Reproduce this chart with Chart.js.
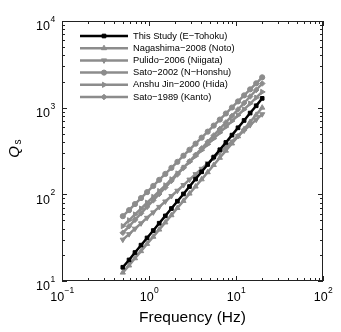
<!DOCTYPE html>
<html>
<head>
<meta charset="utf-8">
<script src="https://cdn.jsdelivr.net/npm/chart.js@4.4.0/dist/chart.umd.min.js"></script>
<style>
  html, body { margin: 0; padding: 0; background: #fff; }
  canvas { display: block; }
</style>
</head>
<body>
<canvas id="qsChart" width="341" height="332"></canvas>
<script>
// frecuencias (Hz), espaciado logaritmico entre 0.5 y 20 Hz
const frecuencias = [0.5, 0.59, 0.69, 0.81, 0.95, 1.12, 1.31, 1.54, 1.81, 2.12, 2.49, 2.92,
                     3.43, 4.03, 4.73, 5.55, 6.52, 7.65, 8.99, 10.55, 12.39, 14.54, 17.07, 20];

// Qs de cada estudio
const qsEstudio   = [14.4, 17.5, 21.3, 25.9, 31.4, 38.2, 46.4, 56.4, 68.6, 83.3, 101, 123,
                     150, 182, 221, 269, 327, 397, 482, 586, 712, 866, 1052, 1280];
const qsNagashima = [12.5, 15.1, 18.3, 22.1, 26.8, 32.4, 39.2, 47.4, 57.4, 69.5, 84.0, 102,
                     123, 149, 180, 218, 264, 319, 386, 467, 565, 684, 827, 1000];
const qsPulido    = [30, 34.7, 40.1, 46.3, 53.6, 61.9, 71.6, 82.7, 95.6, 110, 128, 148,
                     171, 197, 228, 264, 305, 352, 407, 471, 544, 629, 727, 840];
const qsSato2002  = [56, 65.7, 77.2, 90.6, 106, 125, 147, 172, 202, 237, 279, 327,
                     384, 451, 529, 621, 729, 856, 1005, 1180, 1385, 1626, 1909, 2240];
const qsAnshuJin  = [43, 50.2, 58.6, 68.5, 80.0, 93.4, 109, 127, 149, 174, 203, 237,
                     276, 323, 377, 440, 514, 600, 701, 818, 955, 1115, 1303, 1520];
const qsSato1989  = [36, 42.8, 50.8, 60.4, 71.8, 85.3, 101, 120, 143, 170, 202, 240,
                     285, 339, 403, 478, 568, 675, 802, 953, 1132, 1346, 1599, 1900];

const etiquetas = ['This Study (E\u2212Tohoku)', 'Nagashima\u22122008 (Noto)', 'Pulido\u22122006 (Niigata)',
                   'Sato\u22122002 (N\u2212Honshu)', 'Anshu Jin\u22122000 (Hida)', 'Sato\u22121989 (Kanto)'];

const decadasX = [0.1, 1, 10, 100];
const decadasY = [10, 100, 1000, 10000];

const FUENTE = "'Liberation Sans', Arial, Helvetica, sans-serif";
const GRIS = '#8c8c8c';

function serie(valores) {
    return frecuencias.map((f, i) => ({ x: f, y: valores[i] }));
}

function estilo(label, valores, color, forma, rot, radio) {
    return {
        label: label,
        data: serie(valores),
        borderColor: color,
        backgroundColor: color,
        borderWidth: 2.5,
        pointStyle: forma,
        rotation: rot,
        pointRadius: radio,
        pointBorderWidth: 1,
        tension: 0
    };
}

const datasets = [
    estilo(etiquetas[0], qsEstudio, '#000000', 'rect', 0, 2.6),
    estilo(etiquetas[1], qsNagashima, GRIS, 'triangle', 0, 3),
    estilo(etiquetas[2], qsPulido, GRIS, 'triangle', 180, 3),
    estilo(etiquetas[3], qsSato2002, GRIS, 'circle', 0, 2.6),
    estilo(etiquetas[4], qsAnshuJin, GRIS, 'triangle', 90, 3),
    estilo(etiquetas[5], qsSato1989, GRIS, 'rectRot', 0, 2.8)
];

// caja, marcas hacia adentro, etiquetas 10^n, titulos y leyenda
const ejes = {
    id: 'ejes',
    afterDraw(chart) {
        const ctx = chart.ctx;
        const a = chart.chartArea;
        const x = chart.scales.x;
        const y = chart.scales.y;
        ctx.save();
        ctx.strokeStyle = '#222';
        ctx.lineWidth = 1;
        ctx.strokeRect(a.left + 0.5, a.top + 0.5, a.right - a.left - 1, a.bottom - a.top - 1);

        ctx.beginPath();
        for (let i = 0; i < decadasX.length; i++) {
            for (let m = 1; m <= 9; m++) {
                const v = decadasX[i] * m;
                if (v > 100) break;
                const px = Math.round(x.getPixelForValue(v)) + 0.5;
                const len = m === 1 ? 5 : 3;
                ctx.moveTo(px, a.bottom); ctx.lineTo(px, a.bottom - len);
                ctx.moveTo(px, a.top); ctx.lineTo(px, a.top + len);
            }
        }
        for (let i = 0; i < decadasY.length; i++) {
            for (let m = 1; m <= 9; m++) {
                const v = decadasY[i] * m;
                if (v > 10000) break;
                const py = Math.round(y.getPixelForValue(v)) + 0.5;
                const len = m === 1 ? 5 : 3;
                ctx.moveTo(a.left, py); ctx.lineTo(a.left + len, py);
                ctx.moveTo(a.right, py); ctx.lineTo(a.right - len, py);
            }
        }
        ctx.stroke();

        ctx.fillStyle = '#000';
        // etiquetas eje y
        decadasY.forEach(v => {
            const py = y.getPixelForValue(v);
            const exp = String(Math.round(Math.log10(v)));
            ctx.font = '12.5px ' + FUENTE;
            ctx.textAlign = 'right';
            ctx.textBaseline = 'middle';
            ctx.fillText('10', 50, py + 6);
            ctx.font = '8.5px ' + FUENTE;
            ctx.textAlign = 'left';
            ctx.fillText(exp, 50.5, py - 1.5);
        });
        // etiquetas eje x
        decadasX.forEach(v => {
            const px = x.getPixelForValue(v);
            const n = Math.round(Math.log10(v));
            const exp = n < 0 ? '\u2212' + Math.abs(n) : String(n);
            ctx.font = '12.5px ' + FUENTE;
            const w1 = ctx.measureText('10').width;
            ctx.font = '8.5px ' + FUENTE;
            const w2 = ctx.measureText(exp).width;
            const x0 = px - (w1 + w2) / 2;
            ctx.textAlign = 'left';
            ctx.textBaseline = 'middle';
            ctx.font = '12.5px ' + FUENTE;
            ctx.fillText('10', x0, a.bottom + 17);
            ctx.font = '8.5px ' + FUENTE;
            ctx.fillText(exp, x0 + w1 + 0.5, a.bottom + 10);
        });

        // titulo eje x
        ctx.font = '15.5px ' + FUENTE;
        ctx.textAlign = 'center';
        ctx.textBaseline = 'middle';
        ctx.fillText('Frequency (Hz)', (a.left + a.right) / 2, 318);

        // titulo eje y: Q con subindice s
        ctx.save();
        ctx.translate(15, 152);
        ctx.rotate(-Math.PI / 2);
        ctx.font = 'italic 15px ' + FUENTE;
        ctx.fillText('Q', 0, 0);
        ctx.font = '10px ' + FUENTE;
        ctx.fillText('s', 10, 3);
        ctx.restore();

        // leyenda
        chart.data.datasets.forEach((ds, i) => {
            const yy = 36 + i * 12.2;
            ctx.strokeStyle = ds.borderColor;
            ctx.lineWidth = ds.borderWidth;
            ctx.beginPath();
            ctx.moveTo(80, yy);
            ctx.lineTo(128, yy);
            ctx.stroke();
            ctx.fillStyle = ds.backgroundColor;
            ctx.lineWidth = 1;
            Chart.helpers.drawPoint(ctx, {
                pointStyle: ds.pointStyle,
                radius: ds.pointRadius,
                rotation: ds.rotation,
                borderWidth: 1
            }, 104, yy);
            ctx.fillStyle = '#000';
            ctx.font = '9.3px ' + FUENTE;
            ctx.textAlign = 'left';
            ctx.textBaseline = 'middle';
            ctx.fillText(ds.label, 133, yy);
        });
        ctx.restore();
    }
};

new Chart(document.getElementById('qsChart').getContext('2d'), {
    type: 'line',
    data: { datasets: datasets },
    options: {
        responsive: false,
        animation: false,
        layout: { padding: { left: 0, right: 18, top: 21, bottom: 0 } },
        plugins: { legend: { display: false }, tooltip: { enabled: false } },
        scales: {
            x: {
                type: 'logarithmic',
                min: 0.1,
                max: 100,
                grid: { display: false },
                border: { display: false },
                ticks: { display: false },
                afterFit(scale) { scale.height = 51; }
            },
            y: {
                type: 'logarithmic',
                min: 10,
                max: 10000,
                grid: { display: false },
                border: { display: false },
                ticks: { display: false },
                afterFit(scale) { scale.width = 62; }
            }
        }
    },
    plugins: [ejes]
});
</script>
</body>
</html>
